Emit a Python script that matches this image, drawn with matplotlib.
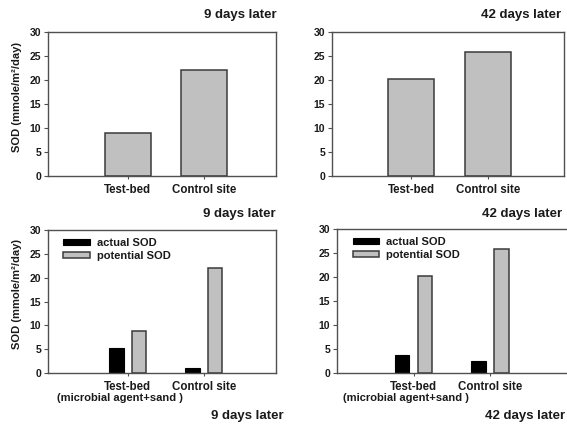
import matplotlib.pyplot as plt
import numpy as np

plt.rcParams['font.family'] = ['Liberation Sans', 'DejaVu Sans']
plt.rcParams['font.weight'] = 'bold'
plt.rcParams['axes.labelweight'] = 'bold'

sites = ["Test-bed", "Control site"]
sub_label = "(microbial agent+sand )"
ylab = "SOD (mmole/m²/day)"

sod_9 = [9.0, 22.0]
sod_42 = [20.2, 25.9]

actual_9 = [5.2, 1.1]
potential_9 = [8.9, 22.0]
actual_42 = [3.8, 2.4]
potential_42 = [20.3, 25.9]

grey = "#c0c0c0"
edge = "#3a3a3a"
txt = "#1a1a1a"

fig = plt.figure(figsize=(5.67, 4.25), dpi=100)

ax_tl = fig.add_axes([48/567, 1-176/425, 228/567, 144/425])
ax_tr = fig.add_axes([332/567, 1-176/425, 232/567, 144/425])
ax_bl = fig.add_axes([48/567, 1-373/425, 228/567, 143/425])
ax_br = fig.add_axes([337/567, 1-373/425, 236/567, 144/425])

x = np.arange(len(sites))


def style(ax, xlim):
    ax.set_ylim(0, 30)
    ax.set_yticks([0, 5, 10, 15, 20, 25, 30])
    ax.set_xlim(*xlim)
    ax.set_xticks(x)
    ax.set_xticklabels(sites)
    for s in ax.spines.values():
        s.set_color("#505050")
        s.set_linewidth(1.0)
    ax.tick_params(axis='y', length=3, width=0.8, color="#505050",
                   labelsize=7.5, pad=2, labelcolor=txt)
    ax.tick_params(axis='x', length=2, width=0.8, color="#505050",
                   labelsize=8.3, pad=4, labelcolor=txt)


# top row
ax_tl.bar(x, sod_9, width=0.6, color=grey, edgecolor=edge, linewidth=1.1)
style(ax_tl, (-1.05, 1.95))
ax_tl.set_ylabel(ylab, fontsize=8, fontweight="bold", color=txt)
ax_tl.yaxis.set_label_coords(-0.115, 0.55)

ax_tr.bar(x, sod_42, width=0.6, color=grey, edgecolor=edge, linewidth=1.1)
style(ax_tr, (-1.03, 1.99))

# bottom row
w = 0.19
off = 0.15
for ax, act, pot, xl in [(ax_bl, actual_9, potential_9, (-1.05, 1.95)),
                         (ax_br, actual_42, potential_42, (-1.0, 2.08))]:
    ax.bar(x - off, act, width=w, color="black", edgecolor="black",
           linewidth=0.8, label="actual SOD")
    ax.bar(x + off, pot, width=w, color=grey, edgecolor=edge,
           linewidth=1.1, label="potential SOD")
    style(ax, xl)
    ax.legend(loc="upper left", bbox_to_anchor=(0.033, 1.0), frameon=False,
              fontsize=8, handlelength=2.4, handleheight=0.5,
              labelspacing=0.3, handletextpad=0.6, borderaxespad=0.3,
              labelcolor=txt)
    # second line under the test-bed label
    ax.text(-0.1, -0.175, sub_label, transform=ax.get_xaxis_transform(),
            ha="center", va="center", fontsize=8, color=txt)
ax_bl.set_ylabel(ylab, fontsize=8, fontweight="bold", color=txt)
ax_bl.yaxis.set_label_coords(-0.115, 0.55)

# panel captions
fs = 9.5
fig.text(277/567, 1-15/425, "9 days later", ha="right", va="center",
         fontsize=fs, color=txt)
fig.text(561/567, 1-15/425, "42 days later", ha="right", va="center",
         fontsize=fs, color=txt)
fig.text(276/567, 1-214/425, "9 days later", ha="right", va="center",
         fontsize=fs, color=txt)
fig.text(562/567, 1-214/425, "42 days later", ha="right", va="center",
         fontsize=fs, color=txt)
fig.text(284/567, 1-416/425, "9 days later", ha="right", va="center",
         fontsize=fs, color=txt)
fig.text(565/567, 1-416/425, "42 days later", ha="right", va="center",
         fontsize=fs, color=txt)

fig.savefig("out.png", dpi=100)
